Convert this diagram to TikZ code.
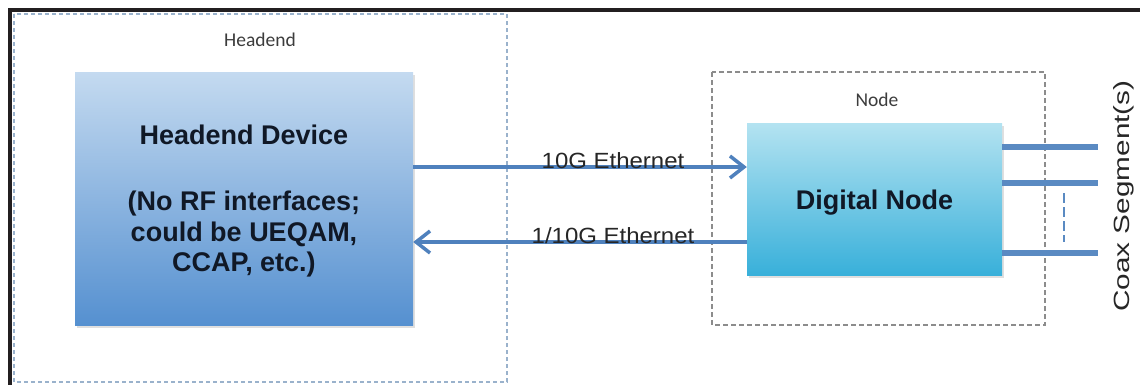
\documentclass[tikz,border=0pt]{standalone}
\usepackage{fontspec}
\setmainfont{Liberation Sans}
\newfontfamily\labelfont{Carlito}
\usetikzlibrary{shadows,arrows.meta}

\definecolor{frameblack}{HTML}{231F20}
\definecolor{linkblue}{HTML}{4F81BD}
\definecolor{coaxblue}{HTML}{5A8AC2}
\definecolor{hdtop}{HTML}{C4DAF0}
\definecolor{hdbot}{HTML}{5590D0}
\definecolor{dntop}{HTML}{B4E3F1}
\definecolor{dnbot}{HTML}{38B0DA}
\definecolor{boxtext}{HTML}{101826}
\definecolor{zonegrey}{HTML}{8C8C8C}
\definecolor{zoneblue}{HTML}{9AB2CC}
\definecolor{labelgrey}{HTML}{3C3C3C}

\tikzset{
  x=1pt, y=-1pt,
  zone/.style={dashed, dash pattern=on 4pt off 3pt, line width=1.1pt},
  zonelabel/.style={font=\labelfont\fontsize{19.5}{22}\selectfont, text=labelgrey},
  device/.style={rectangle, inner sep=0pt, text=boxtext, align=center,
    font=\bfseries\fontsize{27}{30.5}\selectfont,
    drop shadow={opacity=0.25, shadow xshift=1.5pt, shadow yshift=-2.5pt}},
  link/.style={draw=linkblue, line width=3.8pt,
    -{Straight Barb[length=14pt, width=22pt, line width=3.5pt]}},
  linklabel/.style={anchor=base, inner sep=0pt, text=black!85,
    font=\fontsize{22}{26}\selectfont},
  coax/.style={draw=coaxblue, line width=6.5pt},
}

\begin{document}
\begin{tikzpicture}
\useasboundingbox (0,0) rectangle (1140,384);
\fill[white] (0,0) rectangle (1140,384);

% zones
\draw[zone, draw=zoneblue] (14,14) rectangle (507,382);
\node[zonelabel] (hezone) at (260,40) {Headend};
\draw[zone, draw=zonegrey, dash pattern=on 5pt off 3pt] (712,72) rectangle (1045,325);
\node[zonelabel] (ndzone) at (877,100) {Node};

% outer frame
\draw[frameblack, line width=4pt] (10.3,390) -- (10.3,10.3) -- (1145,10.3);

% devices (the struts set the text block a little lower in each box)
\node[device, minimum width=338pt, minimum height=253pt,
      top color=hdtop, bottom color=hdbot] (hd) at (244,198.5)
  {\rule{0pt}{25pt}Headend Device\\[36pt](No RF interfaces;\\could be UEQAM,\\CCAP, etc.)};
\node[device, minimum width=255pt, minimum height=152pt,
      top color=dntop, bottom color=dnbot] (dn) at (874.5,199)
  {\rule{0pt}{27pt}Digital Node};

% Ethernet links
\coordinate (dnlink) at (0,167);
\coordinate (uplink) at (0,242);
\draw[link] (hd.east |- dnlink) -- (dn.west |- dnlink);
\draw[link] (dn.west |- uplink) -- (hd.east |- uplink);
\node[linklabel] (dnl) at (613,168) {\scalebox{1.09}[1]{10G Ethernet}};
\node[linklabel] (upl) at (613,243) {\scalebox{1.09}[1]{1/10G Ethernet}};

% coax segments
\coordinate (c1) at (1098,147);
\coordinate (c2) at (1098,183);
\coordinate (c3) at (1098,253);
\draw[coax] (dn.east |- c1) -- (c1);
\draw[coax] (dn.east |- c2) -- (c2);
\draw[coax] (dn.east |- c3) -- (c3);
\coordinate (dtop) at (1064,193);
\coordinate (dbot) at (1064,242);
\draw[coaxblue, line width=2.5pt, dash pattern=on 10pt off 4pt] (dtop) -- (dbot);
\node[rotate=90, inner sep=0pt, text=black!85, font=\fontsize{22}{26}\selectfont]
  (coaxlbl) at (1124,196) {\scalebox{1.35}[1]{Coax Segment(s)}};
\end{tikzpicture}
\end{document}
